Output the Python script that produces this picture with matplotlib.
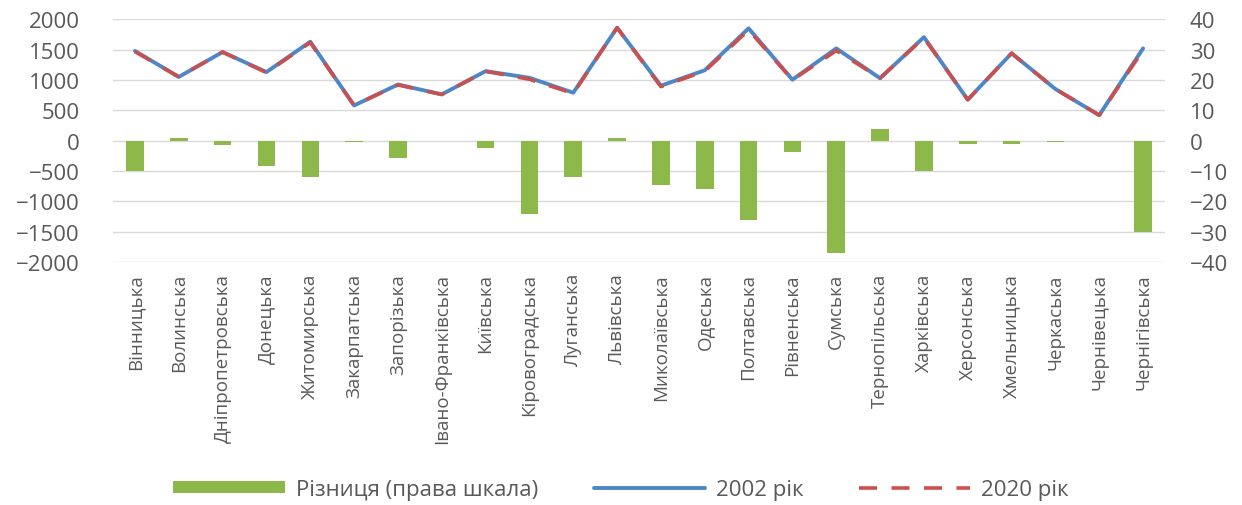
import matplotlib
matplotlib.use("Agg")
import matplotlib.pyplot as plt
import numpy as np

regions = ["Вінницька", "Волинська", "Дніпропетровська", "Донецька", "Житомирська",
           "Закарпатська", "Запорізька", "Івано-Франківська", "Київська", "Кіровоградська",
           "Луганська", "Львівська", "Миколаївська", "Одеська", "Полтавська", "Рівненська",
           "Сумська", "Тернопільська", "Харківська", "Херсонська", "Хмельницька",
           "Черкаська", "Чернівецька", "Чернігівська"]

values_2002 = [1478, 1050, 1460, 1130, 1630, 580, 925, 762, 1145, 1035,
               790, 1860, 905, 1160, 1850, 1005, 1520, 1028, 1705, 675,
               1440, 850, 420, 1520]

difference = [-10, 0.8, -1.3, -8.5, -12, -0.4, -5.8, 0, -2.4, -24,
              -12, 0.8, -14.7, -15.8, -26, -3.8, -37, 4, -10, -1.1,
              -1.1, -0.5, 0, -30]

values_2020 = [1468, 1051, 1459, 1122, 1618, 580, 919, 762, 1143, 1011,
               778, 1861, 890, 1144, 1824, 1001, 1483, 1032, 1695, 674,
               1439, 850, 420, 1490]

left_ticks = [-2000, -1500, -1000, -500, 0, 500, 1000, 1500, 2000]
right_ticks = [-40, -30, -20, -10, 0, 10, 20, 30, 40]

legend_labels = ["Різниця (права шкала)", "2002 рік", "2020 рік"]

FONT = ["Open Sans", "DejaVu Sans"]
plt.rcParams["font.family"] = FONT
TXT = "#595959"

fig = plt.figure(figsize=(12.42, 5.06), dpi=100)
ax = fig.add_axes([0.091, 0.480, 0.847, 0.480])
ax2 = ax.twinx()

x = np.arange(len(regions))

# bars on right axis
ax2.bar(x, difference, width=0.4, color="#8DB84A", zorder=2,
        label=legend_labels[0])
ax2.set_ylim(-40, 40)
ax2.set_yticks(right_ticks)

# lines on left axis, drawn above bars
ax.set_zorder(ax2.get_zorder() + 1)
ax.patch.set_visible(False)
ax.plot(x, values_2002, color="#4F86C6", lw=2.8, solid_capstyle="round",
        label=legend_labels[1], zorder=3)
ax.plot(x, values_2020, color="#C9504D", lw=2.6, dashes=(5, 4),
        label=legend_labels[2], zorder=4)
ax.set_ylim(-2000, 2000)
ax.set_yticks(left_ticks)
ax.set_xlim(-0.5, len(regions) - 0.5)
ax.set_xticks(x)
ax.set_xticklabels(regions, rotation=90, fontsize=13.5, color=TXT)

# gridlines
for t in left_ticks:
    ax2.axhline(t / 50.0, color="#D9D9D9", lw=1, zorder=0)

for a in (ax, ax2):
    for s in a.spines.values():
        s.set_visible(False)
    a.tick_params(length=0)
ax.tick_params(axis="y", labelsize=16, labelcolor=TXT, pad=24)
ax.tick_params(axis="x", pad=8)
ax2.tick_params(axis="y", labelsize=16, labelcolor=TXT, pad=18)

h1, l1 = ax2.get_legend_handles_labels()
h2, l2 = ax.get_legend_handles_labels()
leg = fig.legend(h1 + h2, l1 + l2, loc="lower center", bbox_to_anchor=(0.5, -0.03),
                 ncol=3, frameon=False, fontsize=16, handlelength=5.0,
                 handleheight=0.45, columnspacing=2.5, handletextpad=0.5)
for t in leg.get_texts():
    t.set_color(TXT)

fig.savefig("out.png", dpi=100)
